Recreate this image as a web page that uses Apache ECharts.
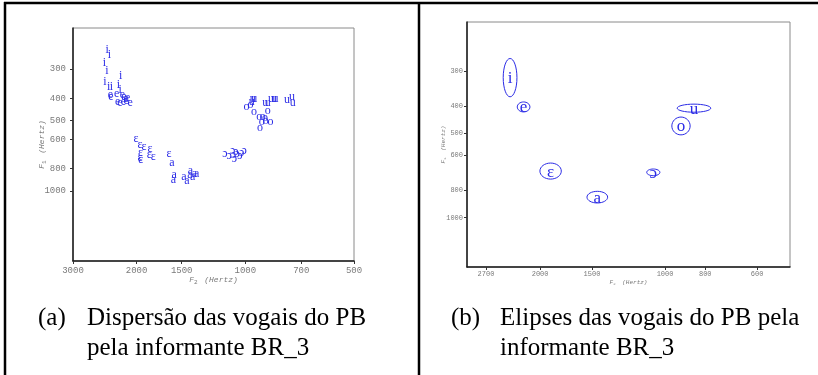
<!DOCTYPE html>
<html>
<head>
<meta charset="utf-8">
<script src="https://cdn.jsdelivr.net/npm/echarts@6/dist/echarts.min.js"></script>
<style>
  html, body { margin: 0; padding: 0; background: #fff; }
  #chart { width: 818px; height: 375px; }
</style>
</head>
<body>
<div id="chart"></div>
<script>
// Tick values (Hz)
const f2TicksA = [3000, 2000, 1500, 1000, 700, 500];
const f2TicksB = [2700, 2000, 1500, 1000, 800, 600];
const f1Ticks = [300, 400, 500, 600, 800, 1000];

// Panel (a): individual tokens, [F2, F1] in Hz
const tokensI = [[2412,247],[2380,261],[2457,281],[2415,305],[2448,340],[2391,357],[2348,357],[2214,321],[2247,351],[2220,367]];
const tokensE = [[2364,388],[2357,394],[2271,384],[2190,386],[2167,394],[2139,401],[2255,414],[2224,419],[2177,414],[2139,411],[2085,421],[2117,397]];
const tokensEh = [[2006,599],[1956,635],[1907,650],[1949,690],[1956,725],[1946,737],[1837,661],[1846,702],[1799,718],[1627,694]];
const tokensA = [[1596,757],[1575,855],[1582,901],[1479,869],[1451,907],[1420,819],[1423,855],[1399,872],[1383,849],[1363,847]];
const tokensOh = [[1138,694],[1108,708],[1084,673],[1072,730],[1062,679],[1053,694],[1035,708],[1023,690],[1007,675],[1079,702]];
const tokensO = [[992,435],[967,428],[946,460],[915,481],[895,483],[882,485],[900,508],[878,501],[851,506],[910,537],[867,454]];
const tokensU = [[954,403],[944,403],[960,414],[880,419],[867,419],[849,401],[833,401],[766,407],[743,394],[739,419],[825,401]];

// Panel (b): ellipse extents per vowel, F2 [from, to] and F1 [from, to] in Hz
const ellipseVowels = ['i', 'e', 'ɛ', 'a', 'ɔ', 'o', 'u'];
const ellipseF2 = [[2454,2274],[2270,2116],[2002,1778],[1542,1375],[1107,1029],[963,870],[935,776]];
const ellipseF1 = [[270,370],[386,419],[638,728],[805,886],[670,708],[437,506],[393,420]];

const BLUE = '#2b2be6';
const GRAY = '#7a7a7a';
const lg = v => Math.log10(v);
const hz = v => Math.round(Math.pow(10, v));

function axisName(sub, size) {
  return {
    name: '{f|F}{s|' + sub + '}  {h|(Hertz)}',
    nameLocation: 'middle',
    nameMoveOverlap: false,
    nameTextStyle: {
      color: GRAY,
      rich: {
        f: { fontFamily: 'Liberation Mono', fontStyle: 'italic', fontSize: size, color: GRAY },
        s: { fontFamily: 'Liberation Mono', fontSize: size - 2, color: GRAY, padding: [size * 0.5, 0, 0, 0] },
        h: { fontFamily: 'Liberation Mono', fontStyle: 'italic', fontSize: size, color: GRAY }
      }
    }
  };
}

function xAxis(grid, ticks, lo, hi, fs, margin, gap) {
  return Object.assign({
    type: 'value', gridIndex: grid, inverse: true,
    min: lg(lo), max: lg(hi),
    nameGap: gap,
    axisLine: { show: true, lineStyle: { color: '#1a1a1a', width: 1.5 } },
    axisTick: { show: true, length: 3, customValues: ticks.map(lg), lineStyle: { color: '#333' } },
    axisLabel: { customValues: ticks.map(lg), formatter: hz, fontFamily: 'Liberation Mono', fontSize: fs, color: GRAY, margin: margin },
    splitLine: { show: false }
  }, axisName('2', fs - 1));
}

function yAxis(grid, ticks, lo, hi, fs, margin, gap) {
  return Object.assign({
    type: 'value', gridIndex: grid, inverse: true,
    min: lg(lo), max: lg(hi),
    nameGap: gap, nameRotate: 90,
    axisLine: { show: true, lineStyle: { color: '#1a1a1a', width: 1.5 } },
    axisTick: { show: true, length: 3, customValues: ticks.map(lg), lineStyle: { color: '#333' } },
    axisLabel: { customValues: ticks.map(lg), formatter: hz, fontFamily: 'Liberation Mono', fontSize: fs, color: GRAY, margin: margin },
    splitLine: { show: false }
  }, axisName('1', fs - 1));
}

// Each token is drawn as its vowel letter centred on (F2, F1)
function tokenSeries(letter, tokens) {
  return {
    type: 'custom', xAxisIndex: 0, yAxisIndex: 0,
    data: tokens.map(p => [lg(p[0]), lg(p[1])]),
    encode: { x: 0, y: 1 },
    silent: true,
    renderItem: function (params, api) {
      const c = api.coord([api.value(0), api.value(1)]);
      return {
        type: 'text',
        style: { text: letter, x: c[0], y: c[1], align: 'center', verticalAlign: 'middle',
                 font: '12px "Liberation Serif"', fill: BLUE }
      };
    }
  };
}

const chart = echarts.init(document.getElementById('chart'), null, { renderer: 'canvas' });

const captionFont = '25px "Liberation Serif"';
function caption(text, x, y) {
  return { type: 'text', x: x, y: y, style: { text: text, font: captionFont, fill: '#000', verticalAlign: 'middle' } };
}

chart.setOption({
  animation: false,
  backgroundColor: '#fff',
  grid: [
    { left: 73, top: 28, width: 281, height: 233, show: true, borderColor: '#8a8a8a', borderWidth: 1 },
    { left: 467, top: 22, width: 323, height: 245, show: true, borderColor: '#8a8a8a', borderWidth: 1 }
  ],
  xAxis: [
    xAxis(0, f2TicksA, 500, 3000, 9, 5, 13),
    xAxis(1, f2TicksB, 500, 3000, 7, 4, 9)
  ],
  yAxis: [
    yAxis(0, f1Ticks, 200, 2000, 9, 7, 25),
    yAxis(1, f1Ticks, 200, 1500, 7, 4, 18)
  ],
  series: [
    tokenSeries('i', tokensI),
    tokenSeries('e', tokensE),
    tokenSeries('ɛ', tokensEh),
    tokenSeries('a', tokensA),
    tokenSeries('ɔ', tokensOh),
    tokenSeries('o', tokensO),
    tokenSeries('u', tokensU),
    {
      type: 'custom', xAxisIndex: 1, yAxisIndex: 1,
      data: ellipseVowels.map((v, k) => [lg(ellipseF2[k][0]), lg(ellipseF2[k][1]), lg(ellipseF1[k][0]), lg(ellipseF1[k][1])]),
      encode: { x: [0, 1], y: [2, 3] },
      silent: true,
      renderItem: function (params, api) {
        const a = api.coord([api.value(0), api.value(2)]);
        const b = api.coord([api.value(1), api.value(3)]);
        const cx = (a[0] + b[0]) / 2, cy = (a[1] + b[1]) / 2;
        const rx = Math.abs(b[0] - a[0]) / 2, ry = Math.abs(b[1] - a[1]) / 2;
        return {
          type: 'group',
          children: [
            { type: 'ellipse', shape: { cx: cx, cy: cy, rx: rx, ry: ry },
              style: { fill: 'none', stroke: BLUE, lineWidth: 1 } },
            { type: 'text',
              style: { text: ellipseVowels[params.dataIndex], x: cx, y: cy + 1,
                       align: 'center', verticalAlign: 'middle',
                       font: '17px "Liberation Serif"', fill: BLUE } }
          ]
        };
      }
    }
  ],
  graphic: [
    // table frame
    { type: 'line', shape: { x1: 4, y1: 3, x2: 818, y2: 3 }, style: { stroke: '#000', lineWidth: 2.5 } },
    { type: 'line', shape: { x1: 5, y1: 2, x2: 5, y2: 375 }, style: { stroke: '#000', lineWidth: 2.5 } },
    { type: 'line', shape: { x1: 419, y1: 2, x2: 419, y2: 375 }, style: { stroke: '#000', lineWidth: 2.5 } },
    // captions
    caption('(a)', 38, 318),
    caption('Dispersão das vogais do PB', 87, 318),
    caption('pela informante BR_3', 87, 348),
    caption('(b)', 451, 318),
    caption('Elipses das vogais do PB pela', 500, 318),
    caption('informante BR_3', 500, 348)
  ]
});
</script>
</body>
</html>
